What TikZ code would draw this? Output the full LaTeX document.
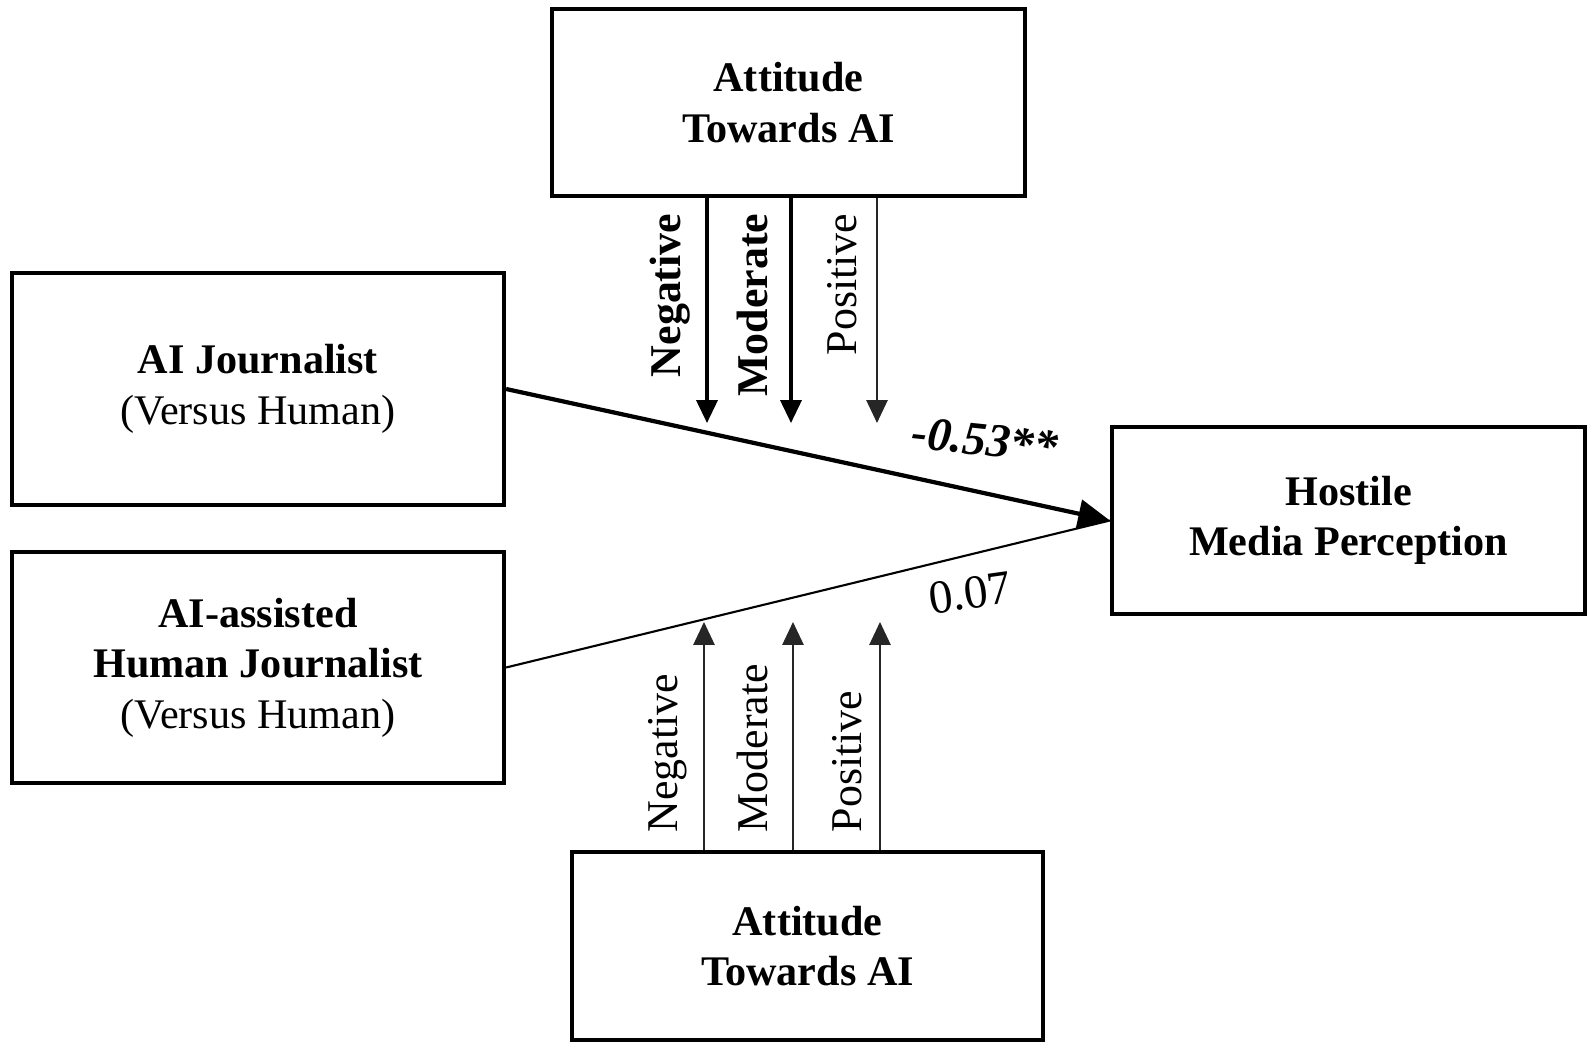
\documentclass[tikz,border=0pt]{standalone}
\usepackage{fontspec}
\setmainfont{Liberation Serif}
\usetikzlibrary{positioning, arrows.meta}

\tikzset{
  varbox/.style={draw, line width=1.2pt, align=center, inner sep=0pt,
    font=\fontsize{12}{14.4}\selectfont},
  modlabel/.style={rotate=90, inner sep=0pt, font=\fontsize{12.5}{15}\selectfont},
  coef/.style={inner sep=0pt, font=\fontsize{13.5}{16}\selectfont},
  boldarr/.style={-{Triangle[length=6.5pt,width=6pt]}, line width=0.9pt},
  thinarr/.style={-{Triangle[length=6.5pt,width=6pt]}, line width=0.6pt, black!85},
}

\begin{document}
\begin{tikzpicture}
\useasboundingbox (0,0) rectangle (15.95,10.53);
% Boxes
\node[varbox, minimum width=4.73cm, minimum height=1.87cm] (attTop) at (7.885,9.505)
  {\textbf{Attitude}\\\textbf{Towards AI}};
\node[varbox, minimum width=4.92cm, minimum height=2.32cm] (aiJour) at (2.58,6.64)
  {\textbf{AI Journalist}\\(Versus Human)};
\node[varbox, minimum width=4.92cm, minimum height=2.31cm] (aiAssist) at (2.58,3.855)
  {\textbf{AI-assisted}\\\textbf{Human Journalist}\\(Versus Human)};
\node[varbox, minimum width=4.73cm, minimum height=1.87cm] (hostile) at (13.485,5.325)
  {\textbf{Hostile}\\\textbf{Media Perception}};
\node[varbox, minimum width=4.71cm, minimum height=1.88cm] (attBot) at (8.075,1.07)
  {\textbf{Attitude}\\\textbf{Towards AI}};
% Main paths
\draw[line width=0.6pt] (aiAssist.east) -- (hostile.west);
\draw[-{Triangle[length=9pt,width=8pt]}, line width=1.2pt] (aiJour.east) -- (hostile.west);
\node[coef, rotate=-6] (coefAI) at (9.85,6.13) {\textbf{\textit{-0.53**}}};
\node[coef, rotate=8] (coefAssist) at (9.70,4.60) {0.07};
% Moderator arrows (top)
\foreach \x/\n/\s in {7.07/1/boldarr, 7.91/2/boldarr, 8.77/3/thinarr}{
  \coordinate (topTip\n) at (\x,6.30);
  \draw[\s] (topTip\n |- attTop.south) -- (topTip\n);
}
\node[modlabel, anchor=east] (topNeg) at (6.70,8.40) {\textbf{Negative}};
\node[modlabel, anchor=east] (topMod) at (7.52,8.40) {\textbf{Moderate}};
\node[modlabel, anchor=east] (topPos) at (8.42,8.40) {Positive};
% Moderator arrows (bottom)
\foreach \x/\n in {7.04/1, 7.93/2, 8.80/3}{
  \coordinate (botTip\n) at (\x,4.31);
  \draw[thinarr] (botTip\n |- attBot.north) -- (botTip\n);
}
\node[modlabel, anchor=west] (botNeg) at (6.68,2.20) {Negative};
\node[modlabel, anchor=west] (botMod) at (7.52,2.20) {Moderate};
\node[modlabel, anchor=west] (botPos) at (8.47,2.20) {Positive};
\end{tikzpicture}
\end{document}
